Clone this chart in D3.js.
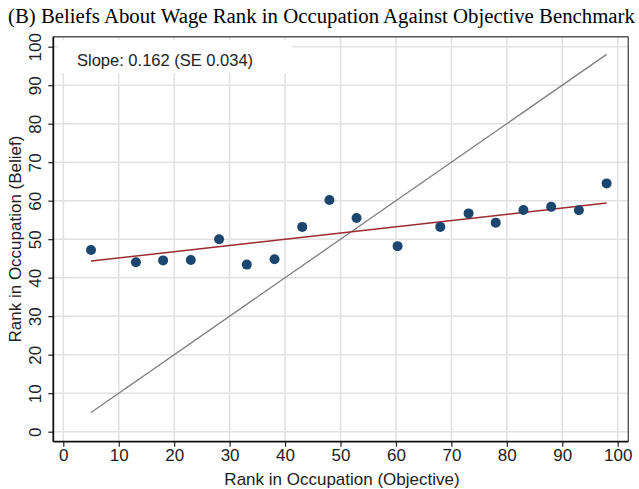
<!DOCTYPE html>
<html>
<head>
<meta charset="utf-8">
<script src="https://cdn.jsdelivr.net/npm/d3@7"></script>
<style>
  html, body { margin: 0; padding: 0; background: #fff; }
  svg { display: block; }
</style>
</head>
<body>
<svg id="chart" width="639" height="489"></svg>
<script>
// Binned scatter: objective wage rank (x) vs believed rank (y)
const objectiveRank = [5, 13.1, 18, 23, 28.1, 33.1, 38.1, 43.1, 48, 52.9, 60.3, 68, 73.1, 78, 83, 88, 93, 98];
const beliefRank    = [47.2, 44.0, 44.5, 44.6, 50.0, 43.4, 44.8, 53.2, 60.2, 55.5, 48.2, 53.2, 56.7, 54.3, 57.6, 58.4, 57.5, 64.5];
const fitSlope = 0.162;
const fitIntercept = 43.5;
const fitRange = [5, 98];
const xTicks = [0, 10, 20, 30, 40, 50, 60, 70, 80, 90, 100];
const yTicks = [0, 10, 20, 30, 40, 50, 60, 70, 80, 90, 100];
const titleText = "(B) Beliefs About Wage Rank in Occupation Against Objective Benchmark";
const noteText = "Slope: 0.162 (SE 0.034)";
const xTitle = "Rank in Occupation (Objective)";
const yTitle = "Rank in Occupation (Belief)";

const svg = d3.select("#chart");
const frame = { left: 53.3, right: 628.3, top: 36.7, bottom: 441.7 };

const x = d3.scaleLinear().domain([0, 100]).range([63.3, 617.7]);
const y = d3.scaleLinear().domain([0, 100]).range([431.7, 46.7]);

// gridlines
const grid = svg.append("g");
grid.selectAll("line.v").data(xTicks).join("line")
  .attr("x1", d => x(d)).attr("x2", d => x(d))
  .attr("y1", frame.top).attr("y2", frame.bottom)
  .attr("stroke", "#e2e2e2").attr("stroke-width", 1.6);
grid.selectAll("line.h").data(yTicks).join("line")
  .attr("y1", d => y(d)).attr("y2", d => y(d))
  .attr("x1", frame.left).attr("x2", frame.right)
  .attr("stroke", "#e2e2e2").attr("stroke-width", 1.6);

// top and right frame
svg.append("line").attr("x1", frame.left).attr("x2", frame.right)
  .attr("y1", frame.top).attr("y2", frame.top)
  .attr("stroke", "#555").attr("stroke-width", 1.4);
svg.append("line").attr("x1", frame.right).attr("x2", frame.right)
  .attr("y1", frame.top).attr("y2", frame.bottom)
  .attr("stroke", "#555").attr("stroke-width", 1.4);

const fontAxis = "Liberation Sans, Arial, sans-serif";

// note box
const noteG = svg.append("g");
noteG.append("rect").attr("x", 58).attr("y", 40).attr("width", 234).attr("height", 33).attr("fill", "#fff");
noteG.append("text").attr("x", 77).attr("y", 66)
  .attr("font-family", fontAxis).attr("font-size", 16.5)
  .attr("fill", "#222").text(noteText);

// 45-degree reference line
svg.append("line")
  .attr("x1", x(fitRange[0])).attr("y1", y(fitRange[0]))
  .attr("x2", x(fitRange[1])).attr("y2", y(fitRange[1]))
  .attr("stroke", "#7f7f7f").attr("stroke-width", 1.3);

// fitted line
svg.append("line")
  .attr("x1", x(fitRange[0])).attr("y1", y(fitIntercept + fitSlope * fitRange[0]))
  .attr("x2", x(fitRange[1])).attr("y2", y(fitIntercept + fitSlope * fitRange[1]))
  .attr("stroke", "#9b2a2f").attr("stroke-width", 1.5);

// points
svg.append("g").selectAll("circle").data(objectiveRank.map((v, i) => [v, beliefRank[i]])).join("circle")
  .attr("cx", d => x(d[0])).attr("cy", d => y(d[1])).attr("r", 5)
  .attr("fill", "#1a466f");

// axes
const xAxis = svg.append("g").attr("transform", `translate(0,${frame.bottom})`)
  .call(d3.axisBottom(x).tickValues(xTicks).tickSize(5).tickPadding(2).tickSizeOuter(0));
xAxis.select(".domain").remove();
xAxis.append("line").attr("x1", frame.left).attr("x2", frame.right).attr("stroke", "#111").attr("stroke-width", 1.8);
xAxis.selectAll(".tick line").attr("stroke", "#222").attr("stroke-width", 1.2);
xAxis.selectAll(".tick text").attr("font-family", fontAxis).attr("font-size", 17).attr("fill", "#222");

const yAxis = svg.append("g").attr("transform", `translate(${frame.left},0)`)
  .call(d3.axisLeft(y).tickValues(yTicks).tickSize(5).tickPadding(3).tickSizeOuter(0));
yAxis.select(".domain").remove();
yAxis.append("line").attr("y1", frame.top).attr("y2", frame.bottom).attr("stroke", "#111").attr("stroke-width", 1.8);
yAxis.selectAll(".tick line").attr("stroke", "#222").attr("stroke-width", 1.2);
yAxis.selectAll(".tick text")
  .attr("font-family", fontAxis).attr("font-size", 17).attr("fill", "#222")
  .attr("x", null).attr("dy", null)
  .attr("text-anchor", "middle")
  .attr("transform", "translate(-17,0) rotate(-90)")
  .attr("dominant-baseline", "middle");

// axis titles
svg.append("text").attr("x", 342).attr("y", 485).attr("text-anchor", "middle")
  .attr("font-family", fontAxis).attr("font-size", 17).attr("fill", "#222").text(xTitle);
svg.append("text").attr("transform", "translate(21,239) rotate(-90)").attr("text-anchor", "middle")
  .attr("font-family", fontAxis).attr("font-size", 17).attr("fill", "#222").text(yTitle);

// title
svg.append("text").attr("x", 8).attr("y", 23)
  .attr("font-family", "Liberation Serif, Times New Roman, serif").attr("font-size", 20.8)
  .attr("fill", "#000").text(titleText);
</script>
</body>
</html>
